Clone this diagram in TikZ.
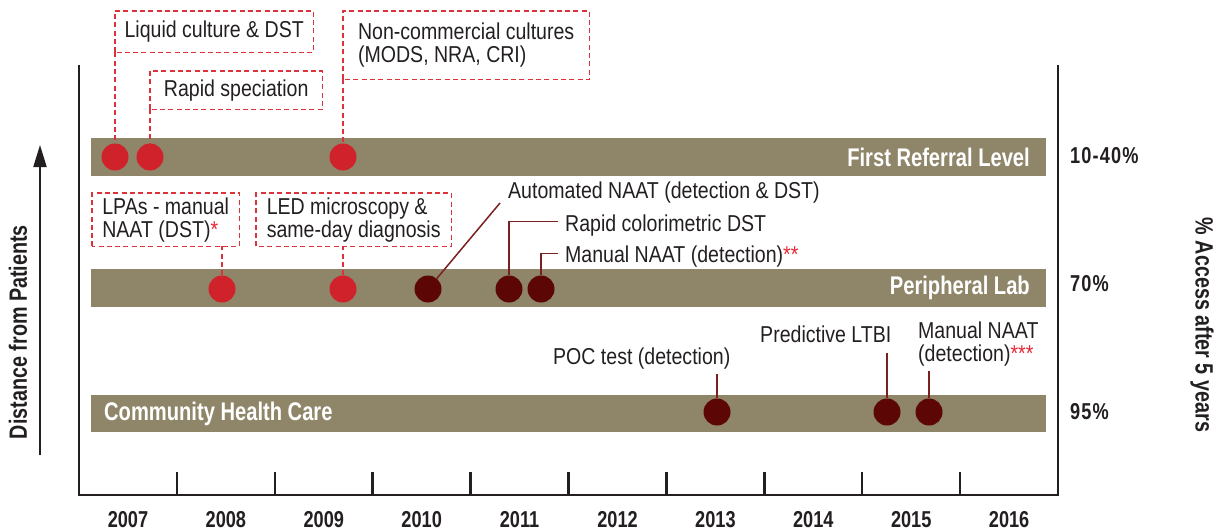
\documentclass[tikz,border=0pt]{standalone}
\usepackage{fontspec}
\setmainfont{Liberation Sans}
\newfontfamily\labfont[FakeStretch=0.85]{Liberation Sans}
\newfontfamily\hdfont[FakeStretch=0.79]{Liberation Sans}
\newfontfamily\pctfont[FakeStretch=0.79,LetterSpace=5]{Liberation Sans}
\usetikzlibrary{arrows.meta}
\definecolor{bandc}{RGB}{143,134,106}
\definecolor{redc}{RGB}{208,34,42}
\definecolor{darkc}{RGB}{92,6,6}
\definecolor{dashc}{RGB}{220,50,60}
\definecolor{astc}{RGB}{228,40,52}
\definecolor{connc}{RGB}{122,32,32}
\definecolor{textc}{RGB}{35,31,32}
\tikzset{
  band/.style={fill=bandc, draw=none},
  redpt/.style={circle, fill=redc, minimum size=27pt, inner sep=0pt},
  darkpt/.style={circle, fill=darkc, minimum size=27pt, inner sep=0pt},
  dbox/.style={draw=none, inner xsep=0pt, inner ysep=0pt, anchor=north west, align=left,
    font=\labfont\fontsize{23}{23}\selectfont, text=textc},
  dline/.style={draw=dashc, dash pattern=on 5pt off 3.3pt, line width=1.5pt},
  conn/.style={draw=connc, line width=1.5pt},
  lbl/.style={inner sep=0pt, anchor=base west, text=textc,
    font=\labfont\fontsize{23}{23}\selectfont},
  bandtxt/.style={inner sep=0pt, text=white, font=\hdfont\bfseries\fontsize{25.5}{26}\selectfont},
  yr/.style={inner sep=0pt, text=textc, font=\hdfont\bfseries\fontsize{23}{24}\selectfont},
  pct/.style={inner sep=0pt, text=textc, font=\pctfont\bfseries\fontsize{23}{24}\selectfont},
  axtitle/.style={inner sep=0pt, text=textc, font=\hdfont\bfseries\fontsize{25}{26}\selectfont},
  axisline/.style={draw=textc, line width=2.5pt},
}
\begin{document}
\begin{tikzpicture}[x=1pt,y=-1pt]
\useasboundingbox (0,0) rectangle (1215,532);
% frame
\draw[axisline] (79,65) -- (79,495) -- (1058,495) -- (1058,65);
\foreach \i in {1,...,9} \draw[axisline] (79+97.9*\i,472) -- (79+97.9*\i,495);
\foreach \yy [count=\i from 0] in {2007,2008,2009,2010,2011,2012,2013,2014,2015,2016}
  \node[yr] (y\yy) at (128+97.9*\i,520) {\yy};
% bands
\fill[band] (91,138) rectangle (1046,176);
\fill[band] (91,269) rectangle (1046,307);
\fill[band] (91,395) rectangle (1046,432);
\node[bandtxt, anchor=east] (frl) at (1030,157) {First Referral Level};
\node[bandtxt, anchor=east] (pl) at (1030,288) {Peripheral Lab};
\node[bandtxt, anchor=west] (chc) at (104,414) {Community Health Care};
% right labels
\node[pct, anchor=west] (p1) at (1070,156) {10-40\%};
\node[pct, anchor=west] (p2) at (1070,284) {70\%};
\node[pct, anchor=west] (p3) at (1070,412) {95\%};
% axis titles
\node[axtitle, rotate=90] (dfp) at (18,332) {Distance from Patients};
\node[axtitle, rotate=-90] (acc) at (1202,325) {\% Access after 5 years};
\coordinate (arrbot) at (40,455);
\coordinate (arrtop) at (40,145);
\draw[draw=textc, line width=2pt, -{Triangle[length=22pt,width=13pt]}] (arrbot) -- (arrtop);
% circles
\node[redpt] (cA) at (115,157) {};
\node[redpt] (cB) at (150,157) {};
\node[redpt] (cC) at (343,157) {};
\node[redpt] (cD) at (222,289) {};
\node[redpt] (cE) at (343,289) {};
\node[darkpt] (d1) at (428,289) {};
\node[darkpt] (d2) at (509,289) {};
\node[darkpt] (d3) at (541,289) {};
\node[darkpt] (d4) at (717,412) {};
\node[darkpt] (d5) at (887,412) {};
\node[darkpt] (d6) at (929,412) {};
% dashed boxes
\node[dbox, minimum width=198pt, minimum height=41pt] (bA) at (115,11) {Liquid culture \& DST};
\node[dbox, minimum width=172pt, minimum height=38pt] (bB) at (150,71) {Rapid speciation};
\node[dbox, minimum width=246pt, minimum height=68pt] (bC) at (343,11) {Non-commercial cultures\\(MODS, NRA, CRI)};
\node[dbox, minimum width=147pt, minimum height=53pt] (bD) at (92,193) {LPAs - manual\\NAAT (DST){\color{astc}*}};
\node[dbox, minimum width=195pt, minimum height=53pt] (bE) at (256,193) {LED microscopy \&\\same-day diagnosis};
\foreach \b in {bA,bB,bC,bD,bE}
  \draw[dline] (\b.south west) rectangle (\b.north east);
\draw[dline] (bA.south west) -- (cA.north);
\draw[dline] (bB.south west) -- (cB.north);
\draw[dline] (bC.south west) -- (cC.north);
\draw[dline] (cD.north) -- (cD.north |- bD.south);
\draw[dline] (cE.north) -- (cE.north |- bE.south);
% plain labels
\node[lbl] (lF) at (508,198) {Automated NAAT (detection \& DST)};
\node[lbl] (lG) at (565,231.5) {Rapid colorimetric DST};
\node[lbl] (lH) at (565,262.5) {Manual NAAT (detection){\color{astc}**}};
\node[lbl] (lI) at (553,364) {POC test (detection)};
\node[lbl] (lJ) at (760,342) {Predictive LTBI};
\node[lbl, anchor=north west, align=left] (lK) at (918,322) {Manual NAAT\\(detection){\color{astc}***}};
\coordinate (eF) at (500,203);
\coordinate (eI) at (717,374);
\coordinate (eJ) at (887,353);
\coordinate (eK) at (929,371);
\draw[conn] (d1) -- (eF);
\draw[conn] (d2.north) |- ([xshift=-7pt,yshift=10pt]lG.base west);
\draw[conn] (d3.north) |- ([xshift=-7pt,yshift=9pt]lH.base west);
\draw[conn] (d4.north) -- (eI);
\draw[conn] (d5.north) -- (eJ);
\draw[conn] (d6.north) -- (eK);
\end{tikzpicture}
\end{document}
